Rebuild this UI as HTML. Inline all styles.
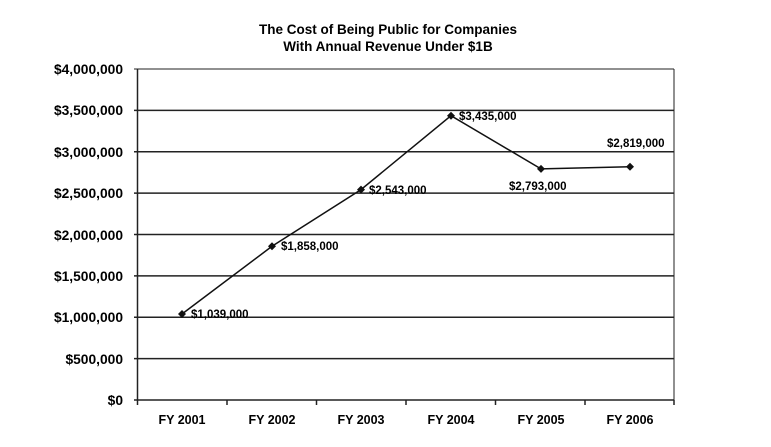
<!DOCTYPE html>
<html><head><style>body{margin:0;background:#fff}</style></head><body>
<svg width="771" height="442" xmlns="http://www.w3.org/2000/svg" font-family="Liberation Sans, Arial, sans-serif" font-weight="bold">
<text x="388" y="34" font-size="13.5" text-anchor="middle">The Cost of Being Public for Companies</text>
<text x="388" y="51" font-size="13.5" text-anchor="middle">With Annual Revenue Under $1B</text>
<g stroke="#222" stroke-width="1.5">
<line x1="134" y1="69" x2="674" y2="69" stroke-width="1"/>
<line x1="134" y1="110.4" x2="674" y2="110.4"/>
<line x1="134" y1="151.8" x2="674" y2="151.8"/>
<line x1="134" y1="193.1" x2="674" y2="193.1"/>
<line x1="134" y1="234.5" x2="674" y2="234.5"/>
<line x1="134" y1="275.9" x2="674" y2="275.9"/>
<line x1="134" y1="317.3" x2="674" y2="317.3"/>
<line x1="134" y1="358.6" x2="674" y2="358.6"/>
<line x1="134" y1="400" x2="674" y2="400"/>
<line x1="137.5" y1="69" x2="137.5" y2="405"/>
<line x1="674" y1="69" x2="674" y2="400" stroke-width="1"/>
<line x1="227" y1="400" x2="227" y2="405"/>
<line x1="316.5" y1="400" x2="316.5" y2="405"/>
<line x1="406" y1="400" x2="406" y2="405"/>
<line x1="495.5" y1="400" x2="495.5" y2="405"/>
<line x1="585" y1="400" x2="585" y2="405"/>
<line x1="674" y1="400" x2="674" y2="405"/>
</g>
<g font-size="13.8" text-anchor="end">
<text x="123" y="74">$4,000,000</text>
<text x="123" y="115">$3,500,000</text>
<text x="123" y="157">$3,000,000</text>
<text x="123" y="198">$2,500,000</text>
<text x="123" y="240">$2,000,000</text>
<text x="123" y="281">$1,500,000</text>
<text x="123" y="322">$1,000,000</text>
<text x="123" y="364">$500,000</text>
<text x="123" y="405">$0</text>
</g>
<g font-size="12.5" text-anchor="middle">
<text x="182" y="424">FY 2001</text>
<text x="272" y="424">FY 2002</text>
<text x="361" y="424">FY 2003</text>
<text x="451" y="424">FY 2004</text>
<text x="541" y="424">FY 2005</text>
<text x="630" y="424">FY 2006</text>
</g>
<polyline points="182,314 272,246.3 361,189.6 451,115.7 541,168.9 630,166.7" fill="none" stroke="#111" stroke-width="1.5"/>
<g fill="#111">
<polygon points="182,310 186,314 182,318 178,314"/>
<polygon points="272,242.3 276,246.3 272,250.3 268,246.3"/>
<polygon points="361,185.6 365,189.6 361,193.6 357,189.6"/>
<polygon points="451,111.7 455,115.7 451,119.7 447,115.7"/>
<polygon points="541,164.9 545,168.9 541,172.9 537,168.9"/>
<polygon points="630,162.7 634,166.7 630,170.7 626,166.7"/>
</g>
<g font-size="11.5">
<text x="191" y="318">$1,039,000</text>
<text x="281" y="250">$1,858,000</text>
<text x="369" y="194">$2,543,000</text>
<text x="459" y="120">$3,435,000</text>
<text x="509" y="190">$2,793,000</text>
<text x="607" y="147">$2,819,000</text>
</g>
</svg>
</body></html>
